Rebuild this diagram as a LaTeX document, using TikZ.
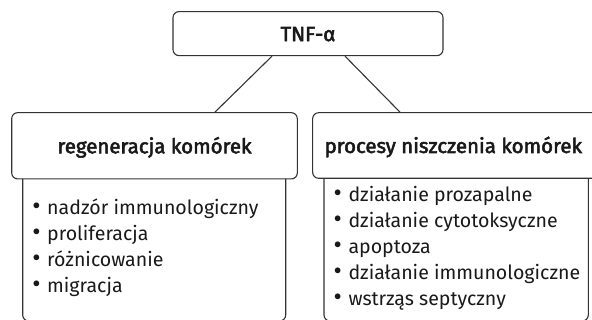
\documentclass[tikz,border=0pt]{standalone}
\usepackage{fontspec}
\setmainfont{Fira Sans}
\newfontfamily\hfont[FakeBold=2.6]{Fira Sans}
\usetikzlibrary{calc}
\newlength\mylw
\newcommand\bul{\makebox[16pt][l]{\hspace{1.2pt}\scalebox{1.3}{•}}}
\AtBeginDocument{%
  \settowidth\mylw{\hfont\fontsize{10}{12}\selectfont regeneracja komórek}%
  \pgfmathsetmacro\hsz{10*194/\mylw}%
  \global\let\hsz\hsz
  \settowidth\mylw{\fontsize{10}{12}\selectfont działanie immunologiczne}%
  \pgfmathsetmacro\lsz{10*231.7/\mylw}%
  \global\let\lsz\lsz}
\begin{document}
\begin{tikzpicture}[x=1pt,y=-1pt]
\tikzset{
  edge/.style={draw=black!80, line width=1.1pt},
  hbox/.style={edge, rounded corners=6pt, inner sep=0pt, text=black!90,
    text height=15pt, text depth=0pt, font=\hfont\fontsize{\hsz}{\hsz}\selectfont},
  item/.style={inner sep=0pt, anchor=base west, text=black!90, font=\fontsize{\lsz}{\lsz}\selectfont}}
\useasboundingbox (0,0) rectangle (592,320);
\clip (0,0) rectangle (592,320);
% lower open boxes
\coordinate (la) at (22.7,179);
\coordinate (lb) at (285.7,179);
\coordinate (ra) at (324,179);
\coordinate (rb) at (588.3,179);
\draw[edge, rounded corners=6pt] (la) -- (la |- 0,321) -- (lb |- 0,321) -- (lb);
\draw[edge, rounded corners=6pt] (ra) -- (ra |- 0,321) -- (rb |- 0,321) -- (rb);
% header boxes
\node[hbox, minimum width=270pt, minimum height=44pt] (tnf) at (308,33.6) {TNF-α};
\node[hbox, minimum width=285.6pt, minimum height=66.3pt] (lh) at (154.5,145.8) {regeneracja komórek};
\node[hbox, minimum width=287.3pt, minimum height=65.6pt] (rh) at (456.3,145.5) {\hspace{-6pt}procesy niszczenia komórek};
% connectors
\draw[edge] ($(tnf.south)+(-36,0)$) -- ($(lh.north)+(60.5,0)$);
\draw[edge] ($(tnf.south)+(37,0)$) -- ($(rh.north)+(-56.3,0)$);
% lists
\node[item] (l1) at (31,215) {\bul nadzór immunologiczny};
\node[item] (l2) at (31,240.8) {\bul proliferacja};
\node[item] (l3) at (31,266.6) {\bul różnicowanie};
\node[item] (l4) at (31,292.4) {\bul migracja};
\node[item] (r1) at (332.3,202) {\bul działanie prozapalne};
\node[item] (r2) at (332.3,227.8) {\bul działanie cytotoksyczne};
\node[item] (r3) at (332.3,253.6) {\bul apoptoza};
\node[item] (r4) at (332.3,279.4) {\bul działanie immunologiczne};
\node[item] (r5) at (332.3,305.2) {\bul wstrząs septyczny};
\end{tikzpicture}
\end{document}
